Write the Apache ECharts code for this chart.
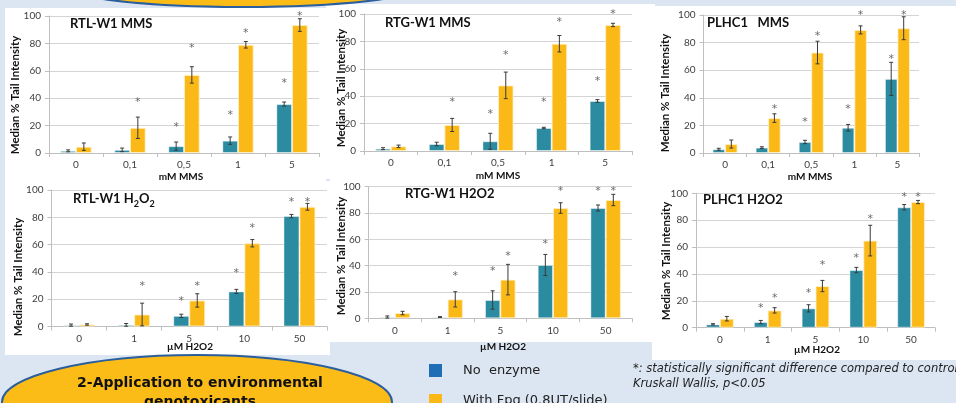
<!DOCTYPE html>
<html><head><meta charset="utf-8">
<script src="https://cdn.jsdelivr.net/npm/echarts@6/dist/echarts.min.js"></script>
<style>html,body{margin:0;padding:0;background:#dce6f2;}#c{width:956px;height:403px;}</style>
</head><body><div id="c"></div>
<script>
// ---- categories ----
const mmsCats = ['0', '0,1', '0,5', '1', '5'];
const h2o2Cats = ['0', '1', '5', '10', '50'];
const yTicks = [0, 20, 40, 60, 80, 100];

// ---- RTL-W1 MMS ----
const rtlMmsNoEnz = [1.6, 2.3, 5.0, 9.0, 35.7];
const rtlMmsNoEnzErr = [0.7, 1.3, 3.0, 2.7, 1.5];
const rtlMmsFpg = [4.6, 18.4, 57.0, 79.0, 93.4];
const rtlMmsFpgErr = [2.7, 7.8, 6.0, 2.4, 4.6];
const rtlMmsStarNoEnz = [null, null, 20.6, 29.0, 52.4];
const rtlMmsStarFpg = [null, 38.6, 77.7, 89.0, 101.5];

// ---- RTG-W1 MMS ----
const rtgMmsNoEnz = [1.7, 5.1, 7.1, 16.8, 36.5];
const rtgMmsNoEnzErr = [0.7, 1.3, 5.8, 0.5, 1.0];
const rtgMmsFpg = [3.4, 19.0, 47.9, 78.3, 92.0];
const rtgMmsFpgErr = [0.9, 4.8, 9.7, 6.0, 1.2];
const rtgMmsStarNoEnz = [null, null, 28.0, 37.2, 52.5];
const rtgMmsStarFpg = [null, 37.2, 71.3, 95.6, 101.0];

// ---- PLHC1 MMS ----
const plhcMmsNoEnz = [2.7, 3.9, 8.0, 18.3, 53.7];
const plhcMmsNoEnzErr = [0.7, 0.6, 1.2, 2.4, 12.0];
const plhcMmsFpg = [6.5, 25.3, 72.8, 89.2, 90.4];
const plhcMmsFpgErr = [2.9, 3.1, 8.2, 2.9, 8.3];
const plhcMmsStarNoEnz = [null, null, 23.6, 33.0, 69.4];
const plhcMmsStarFpg = [null, 33.3, 86.0, 101.7, 101.7];

// ---- RTL-W1 H2O2 ----
const rtlH2o2NoEnz = [1.0, 1.2, 7.8, 25.7, 80.9];
const rtlH2o2NoEnzErr = [0.8, 1.0, 1.2, 1.5, 1.2];
const rtlH2o2Fpg = [1.5, 8.8, 19.1, 61.0, 87.7];
const rtlH2o2FpgErr = [0.5, 8.3, 4.9, 2.7, 2.5];
const rtlH2o2StarNoEnz = [null, null, 19.9, 40.7, 92.9];
const rtlH2o2StarFpg = [null, 31.1, 31.1, 73.5, 92.9];

// ---- RTG-W1 H2O2 ----
const rtgH2o2NoEnz = [1.0, 1.0, 13.9, 40.5, 83.8];
const rtgH2o2NoEnzErr = [0.8, 0.3, 7.0, 8.0, 2.3];
const rtgH2o2Fpg = [4.0, 14.4, 29.4, 83.8, 89.9];
const rtgH2o2FpgErr = [1.3, 5.8, 11.6, 4.0, 4.3];
const rtgH2o2StarNoEnz = [null, null, 37.2, 58.2, 98.2];
const rtgH2o2StarFpg = [null, 33.7, 49.1, 98.2, 98.2];

// ---- PLHC1 H2O2 ----
const plhcH2o2NoEnz = [2.5, 4.2, 14.4, 42.9, 89.6];
const plhcH2o2NoEnzErr = [0.5, 1.2, 2.7, 2.0, 2.0];
const plhcH2o2Fpg = [6.7, 12.9, 31.0, 64.8, 93.5];
const plhcH2o2FpgErr = [1.7, 2.0, 4.2, 11.4, 1.2];
const plhcH2o2StarNoEnz = [null, 16.4, 27.5, 53.3, 98.8];
const plhcH2o2StarFpg = [null, 23.6, 47.9, 82.4, 98.8];

// ---- layout / style ----
const TEAL = '#2a8ba1', GOLD = '#fbb918';
const CAT_GAP = 0.42;
const FONT = 'Lato, "Liberation Sans", sans-serif';

const panels = [
  {cats: mmsCats, a: rtlMmsNoEnz, ae: rtlMmsNoEnzErr, b: rtlMmsFpg, be: rtlMmsFpgErr, sa: rtlMmsStarNoEnz, sb: rtlMmsStarFpg,
   grid: {left: 49, top: 16, width: 270, height: 137}},
  {cats: mmsCats, a: rtgMmsNoEnz, ae: rtgMmsNoEnzErr, b: rtgMmsFpg, be: rtgMmsFpgErr, sa: rtgMmsStarNoEnz, sb: rtgMmsStarFpg,
   grid: {left: 364, top: 14, width: 268, height: 137}},
  {cats: mmsCats, a: plhcMmsNoEnz, ae: plhcMmsNoEnzErr, b: plhcMmsFpg, be: plhcMmsFpgErr, sa: plhcMmsStarNoEnz, sb: plhcMmsStarFpg,
   grid: {left: 703.5, top: 15, width: 215.5, height: 138}},
  {cats: h2o2Cats, a: rtlH2o2NoEnz, ae: rtlH2o2NoEnzErr, b: rtlH2o2Fpg, be: rtlH2o2FpgErr, sa: rtlH2o2StarNoEnz, sb: rtlH2o2StarFpg,
   grid: {left: 51.5, top: 190, width: 275.5, height: 136.5}},
  {cats: h2o2Cats, a: rtgH2o2NoEnz, ae: rtgH2o2NoEnzErr, b: rtgH2o2Fpg, be: rtgH2o2FpgErr, sa: rtgH2o2StarNoEnz, sb: rtgH2o2StarFpg,
   grid: {left: 368.6, top: 186.7, width: 263.4, height: 131.6}},
  {cats: h2o2Cats, a: plhcH2o2NoEnz, ae: plhcH2o2NoEnzErr, b: plhcH2o2Fpg, be: plhcH2o2FpgErr, sa: plhcH2o2StarNoEnz, sb: plhcH2o2StarFpg,
   grid: {left: 696, top: 193.3, width: 239, height: 134.4}}
];

function errRender(side) {
  return function (params, api) {
    const i = api.value(0), v = api.value(1), e = api.value(2);
    const band = api.size([1, 0])[0];
    const bw = band * (1 - CAT_GAP) / 2;
    const x = api.coord([i, v])[0] + side * bw / 2;
    const yt = api.coord([i, v + e])[1];
    const yb = api.coord([i, Math.max(0, v - e)])[1];
    const st = {stroke: '#3a3a3a', lineWidth: 1};
    return {type: 'group', children: [
      {type: 'line', shape: {x1: x, y1: yt, x2: x, y2: yb}, style: st},
      {type: 'line', shape: {x1: x - 2, y1: yt, x2: x + 2, y2: yt}, style: st},
      {type: 'line', shape: {x1: x - 2, y1: yb, x2: x + 2, y2: yb}, style: st}
    ]};
  };
}
function starRender(side) {
  return function (params, api) {
    const i = api.value(0), v = api.value(1);
    const band = api.size([1, 0])[0];
    const bw = band * (1 - CAT_GAP) / 2;
    const p = api.coord([i, v]);
    return {type: 'text', x: p[0] + side * bw / 2, y: p[1] + 2,
      style: {text: '*', fontSize: 11, fill: '#6a6a6a', align: 'center', verticalAlign: 'middle', fontFamily: 'DejaVu Sans'}};
  };
}

const grids = [], xAxes = [], yAxes = [], series = [];
panels.forEach((p, k) => {
  grids.push(Object.assign({containLabel: false}, p.grid));
  xAxes.push({type: 'category', gridIndex: k, data: p.cats,
    axisLine: {lineStyle: {color: '#bfbfbf'}},
    axisTick: {show: true, length: 4, lineStyle: {color: '#bfbfbf'}},
    axisLabel: {color: '#404040', fontSize: 10, margin: 7, fontFamily: FONT}});
  yAxes.push({type: 'value', gridIndex: k, min: yTicks[0], max: yTicks[yTicks.length - 1], interval: 20,
    axisLine: {show: true, lineStyle: {color: '#bfbfbf'}},
    axisTick: {show: true, length: 4, lineStyle: {color: '#bfbfbf'}},
    splitLine: {lineStyle: {color: '#d4d4d4'}},
    axisLabel: {color: '#404040', fontSize: 10, margin: 8, fontFamily: FONT}});
  series.push({type: 'bar', xAxisIndex: k, yAxisIndex: k, data: p.a, barGap: '0%', barCategoryGap: (CAT_GAP * 100) + '%',
    itemStyle: {color: TEAL, borderColor: 'rgba(255,255,255,0.45)', borderWidth: 1}, animation: false});
  series.push({type: 'bar', xAxisIndex: k, yAxisIndex: k, data: p.b, barGap: '0%', barCategoryGap: (CAT_GAP * 100) + '%',
    itemStyle: {color: GOLD, borderColor: 'rgba(255,240,200,0.8)', borderWidth: 1}, animation: false});
  series.push({type: 'custom', xAxisIndex: k, yAxisIndex: k, renderItem: errRender(-1), z: 5,
    data: p.a.map((v, i) => [i, v, p.ae[i]]), encode: {x: 0, y: 1}, animation: false});
  series.push({type: 'custom', xAxisIndex: k, yAxisIndex: k, renderItem: errRender(1), z: 5,
    data: p.b.map((v, i) => [i, v, p.be[i]]), encode: {x: 0, y: 1}, animation: false});
  series.push({type: 'custom', xAxisIndex: k, yAxisIndex: k, renderItem: starRender(-1), z: 5, clip: false,
    data: p.sa.map((v, i) => v == null ? null : [i, v]).filter(d => d), encode: {x: 0, y: 1}, animation: false});
  series.push({type: 'custom', xAxisIndex: k, yAxisIndex: k, renderItem: starRender(1), z: 5, clip: false,
    data: p.sb.map((v, i) => v == null ? null : [i, v]).filter(d => d), encode: {x: 0, y: 1}, animation: false});
});

function txt(x, y, text, o) {
  return Object.assign({type: 'text', x: x, y: y, z: 50,
    style: Object.assign({text: text, fill: '#111', fontFamily: FONT, fontSize: 10, align: 'center', verticalAlign: 'middle'}, o || {})});
}
function panelRect(x, y, w, h) {
  return {type: 'rect', shape: {x: x, y: y, width: w, height: h}, style: {fill: '#ffffff'}, z: -10};
}
const titleStyle = {fontSize: 13, fontWeight: 'bold', align: 'left'};
const yNameStyle = {fontSize: 11.5, fontWeight: 'bold'};
const xNameStyle = {fontSize: 10, fontWeight: 'bold'};
const comic = '"Comic Sans MS", "DejaVu Sans", sans-serif';

const graphics = [
  panelRect(5, 8, 321, 174),
  panelRect(326, 4, 329, 175),
  panelRect(655, 6, 301, 173),
  panelRect(5, 181, 325, 174),
  panelRect(330, 178, 322, 164),
  panelRect(652, 179, 304, 181),
  // top ellipse
  {type: 'ellipse', shape: {cx: 243, cy: -18, rx: 192, ry: 25}, style: {fill: '#fbbc18', stroke: '#2a5e9c', lineWidth: 2}, z: 30},
  // titles
  txt(70, 24, 'RTL-W1 MMS', titleStyle),
  txt(385, 23, 'RTG-W1 MMS', titleStyle),
  txt(707, 23, 'PLHC1   MMS', titleStyle),
  {type: 'text', x: 73, y: 200, z: 50, style: {
    text: '{a|RTL-W1 H}{s|2}{a|O}{s|2}',
    fontFamily: FONT, verticalAlign: 'middle', align: 'left',
    rich: {a: {fontSize: 13, fontWeight: 'bold', fill: '#111', fontFamily: FONT, lineHeight: 16, verticalAlign: 'top'},
           s: {fontSize: 9, fontWeight: 'bold', fill: '#111', fontFamily: FONT, lineHeight: 16, padding: [8, 0, 0, 0], verticalAlign: 'top'}}}},
  txt(405, 194, 'RTG-W1 H2O2', titleStyle),
  txt(703, 200, 'PLHC1 H2O2', titleStyle),
  // y names
  Object.assign(txt(15, 95, 'Median % Tail Intensity', yNameStyle), {rotation: Math.PI / 2}),
  Object.assign(txt(341, 88, 'Median % Tail Intensity', yNameStyle), {rotation: Math.PI / 2}),
  Object.assign(txt(665, 93, 'Median % Tail Intensity', yNameStyle), {rotation: Math.PI / 2}),
  Object.assign(txt(18, 277, 'Median % Tail Intensity', yNameStyle), {rotation: Math.PI / 2}),
  Object.assign(txt(341, 256, 'Median % Tail Intensity', yNameStyle), {rotation: Math.PI / 2}),
  Object.assign(txt(666, 261, 'Median % Tail Intensity', yNameStyle), {rotation: Math.PI / 2}),
  // x names
  txt(181, 177, 'mM MMS', xNameStyle),
  txt(498, 176, 'mM MMS', xNameStyle),
  txt(810, 177, 'mM MMS', xNameStyle),
  txt(190, 347, 'µM H2O2', xNameStyle),
  txt(503, 347, 'µM H2O2', xNameStyle),
  txt(817, 350, 'µM H2O2', xNameStyle),
  // bottom ellipse
  {type: 'ellipse', shape: {cx: 197, cy: 402, rx: 195, ry: 47}, style: {fill: '#fbbc18', stroke: '#2a5e9c', lineWidth: 2}, z: 30},
  txt(200, 383, '2-Application to environmental', {fontFamily: comic, fontSize: 14, fontWeight: 'bold', fill: '#111'}),
  txt(200, 402, 'genotoxicants', {fontFamily: comic, fontSize: 14, fontWeight: 'bold', fill: '#111'}),
  // legend
  {type: 'rect', shape: {x: 429, y: 364, width: 13, height: 13}, style: {fill: '#1e6db5'}, z: 30},
  {type: 'rect', shape: {x: 429, y: 394, width: 13, height: 13}, style: {fill: GOLD}, z: 30},
  txt(463, 371, 'No  enzyme', {fontFamily: comic, fontSize: 13, align: 'left', fill: '#222'}),
  txt(463, 401, 'With Fpg (0.8UT/slide)', {fontFamily: comic, fontSize: 13, align: 'left', fill: '#222'}),
  // footnote
  txt(633, 369, '*: statistically significant difference compared to control,', {fontFamily: comic, fontSize: 11.5, fontStyle: 'italic', align: 'left', fill: '#222'}),
  txt(633, 384, 'Kruskall Wallis, p<0.05', {fontFamily: comic, fontSize: 11.5, fontStyle: 'italic', align: 'left', fill: '#222'})
];

const chart = echarts.init(document.getElementById('c'), null, {renderer: 'canvas'});
chart.setOption({
  backgroundColor: '#dce6f2',
  animation: false,
  grid: grids, xAxis: xAxes, yAxis: yAxes, series: series,
  graphic: {elements: graphics}
});
</script></body></html>
